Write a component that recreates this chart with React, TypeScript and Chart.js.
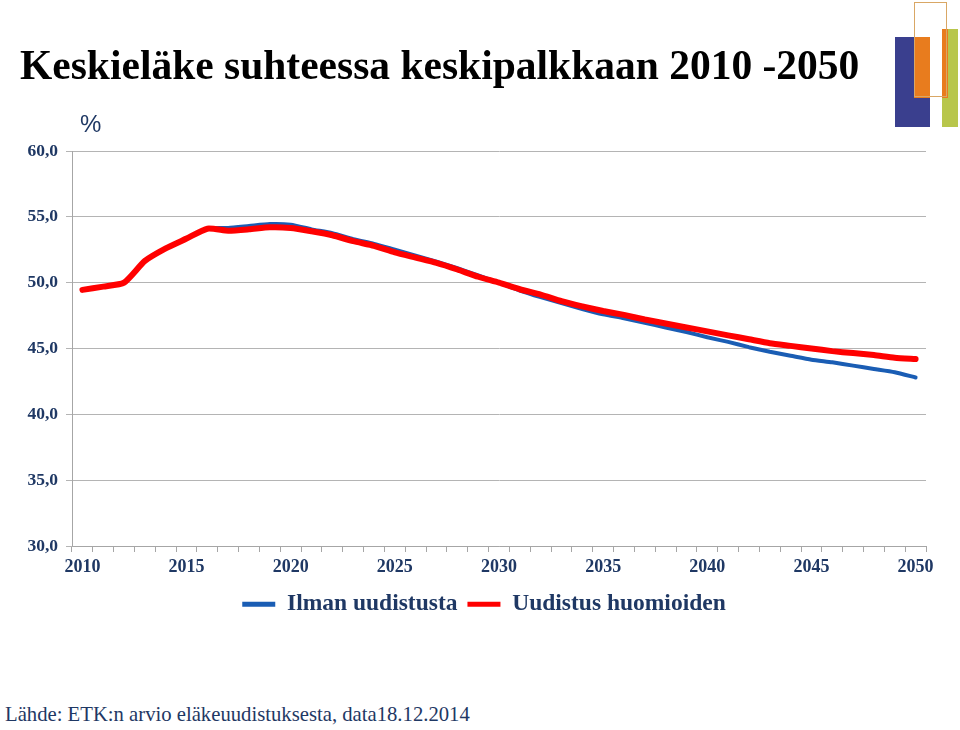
import React, { useEffect, useRef } from "react";
import { Chart, registerables } from "chart.js";

Chart.register(...registerables);

const years = [
  "2010", "2011", "2012", "2013", "2014", "2015", "2016", "2017", "2018", "2019",
  "2020", "2021", "2022", "2023", "2024", "2025", "2026", "2027", "2028", "2029",
  "2030", "2031", "2032", "2033", "2034", "2035", "2036", "2037", "2038", "2039",
  "2040", "2041", "2042", "2043", "2044", "2045", "2046", "2047", "2048", "2049",
  "2050",
];

const ilmanUudistusta = [
  49.45, 49.7, 50.0, 51.65, 52.6, 53.35, 54.1, 54.15, 54.3, 54.45,
  54.4, 54.05, 53.75, 53.3, 52.95, 52.5, 52.05, 51.6, 51.1, 50.55,
  50.0, 49.4, 48.9, 48.45, 48.0, 47.6, 47.3, 46.95, 46.6, 46.25,
  45.85, 45.5, 45.1, 44.75, 44.45, 44.15, 43.95, 43.7, 43.45, 43.2,
  42.8,
];

const uudistusHuomioiden = [
  49.45, 49.7, 50.0, 51.65, 52.6, 53.35, 54.1, 53.95, 54.05, 54.2,
  54.15, 53.9, 53.6, 53.15, 52.8, 52.3, 51.9, 51.5, 51.0, 50.45,
  50.0, 49.5, 49.1, 48.6, 48.2, 47.85, 47.55, 47.2, 46.9, 46.6,
  46.3, 46.0, 45.7, 45.4, 45.2, 45.0, 44.8, 44.65, 44.5, 44.3,
  44.2,
];

const seriesNames = ["Ilman uudistusta", "Uudistus huomioiden"];
const yTicks = [30, 35, 40, 45, 50, 55, 60];

const NAVY = "#1F3864";
const BLUE = "#1A5DB4";
const RED = "#FF0000";
const SERIF = "'Liberation Serif', 'Times New Roman', serif";

// moves the legend so that it is centred on a given x
const legendCentre = {
  id: "legendCentre",
  afterLayout(chart: any) {
    const lg = chart.legend;
    if (!lg) return;
    const target = 484;
    const cur = (lg.left + lg.right) / 2;
    const d = target - cur;
    lg.left += d;
    lg.right += d;
  },
};

export default function App() {
  const canvasRef = useRef<HTMLCanvasElement | null>(null);

  useEffect(() => {
    if (!canvasRef.current) return;
    const chart = new Chart(canvasRef.current, {
      type: "line",
      data: {
        labels: years,
        datasets: [
          {
            label: seriesNames[0],
            data: ilmanUudistusta,
            borderColor: BLUE,
            backgroundColor: BLUE,
            borderWidth: 4,
            pointRadius: 0,
            tension: 0.2,
            borderCapStyle: "round",
            borderJoinStyle: "round",
            order: 2,
          },
          {
            label: seriesNames[1],
            data: uudistusHuomioiden,
            borderColor: RED,
            backgroundColor: RED,
            borderWidth: 6,
            pointRadius: 0,
            tension: 0.2,
            borderCapStyle: "round",
            borderJoinStyle: "round",
            order: 1,
          },
        ],
      },
      plugins: [legendCentre],
      options: {
        animation: false,
        responsive: false,
        maintainAspectRatio: false,
        layout: { padding: { top: 151, left: 16, right: 34, bottom: 14 } },
        plugins: {
          tooltip: { enabled: false },
          title: { display: false },
          legend: {
            position: "bottom",
            labels: {
              boxWidth: 33,
              boxHeight: 5,
              padding: 10,
              color: NAVY,
              font: { family: SERIF, size: 23.5, weight: "bold" },
              sort: (a: any, b: any) => a.datasetIndex - b.datasetIndex,
              generateLabels: (c: any) =>
                Chart.defaults.plugins.legend.labels
                  .generateLabels(c)
                  .map((l: any) => ({ ...l, lineWidth: 0, fontColor: NAVY })),
            },
          },
        },
        scales: {
          x: {
            type: "category",
            offset: true,
            afterFit: (s: any) => {
              s.height = 36.5;
            },
            grid: {
              drawOnChartArea: false,
              drawTicks: true,
              tickLength: 6,
              offset: true,
              color: "#A6A6A6",
            },
            border: { color: "#A6A6A6", width: 1 },
            ticks: {
              autoSkip: false,
              maxRotation: 0,
              padding: 5,
              color: NAVY,
              font: { family: SERIF, size: 18, weight: "bold" },
              callback: (_v: any, i: number) => (Number(years[i]) % 5 === 0 ? years[i] : ""),
            },
          },
          y: {
            min: yTicks[0],
            max: yTicks[yTicks.length - 1],
            afterFit: (s: any) => {
              s.width = 56;
            },
            afterBuildTicks: (s: any) => {
              s.ticks = yTicks.map((v) => ({ value: v }));
            },
            grid: {
              color: "#B4B4B4",
              tickLength: 6,
              drawTicks: true,
            },
            border: { color: "#A6A6A6", width: 1 },
            ticks: {
              padding: 8,
              color: NAVY,
              font: { family: SERIF, size: 17.5, weight: "bold" },
              callback: (v: any) => Number(v).toFixed(1).replace(".", ","),
            },
          },
        },
      },
    });
    return () => chart.destroy();
  }, []);

  return (
    <div style={{ position: "absolute", left: 0, top: 0, width: 960, height: 730, background: "#fff", overflow: "hidden" }}>
      <canvas ref={canvasRef} width={960} height={640} style={{ position: "absolute", left: 0, top: 0, width: 960, height: 640 }} />
      <div
        style={{
          position: "absolute",
          left: 20,
          top: 45,
          fontFamily: SERIF,
          fontWeight: "bold",
          fontSize: 41.5,
          lineHeight: "41.5px",
          color: "#000",
          whiteSpace: "nowrap",
        }}
      >
        Keskieläke suhteessa keskipalkkaan 2010 -2050
      </div>
      <div
        style={{
          position: "absolute",
          left: 80,
          top: 112,
          fontFamily: "'Liberation Sans', Arial, sans-serif",
          fontSize: 24,
          lineHeight: "24px",
          color: NAVY,
        }}
      >
        %
      </div>
      <div
        style={{
          position: "absolute",
          left: 5,
          top: 704,
          fontFamily: SERIF,
          fontSize: 20.7,
          lineHeight: "21px",
          color: NAVY,
          whiteSpace: "nowrap",
        }}
      >
        Lähde: ETK:n arvio eläkeuudistuksesta, data18.12.2014
      </div>
      {/* logo */}
      <div style={{ position: "absolute", left: 895, top: 37, width: 35, height: 90, background: "#3A3F8E" }} />
      <div style={{ position: "absolute", left: 942, top: 29, width: 16, height: 98, background: "#B8C64B" }} />
      <div style={{ position: "absolute", left: 914, top: 37, width: 16, height: 61, background: "#E87C1E" }} />
      <div style={{ position: "absolute", left: 942, top: 29, width: 6, height: 69, background: "#E87C1E" }} />
      <div style={{ position: "absolute", left: 914, top: 2, width: 33, height: 95, border: "1.5px solid #D9A765", boxSizing: "border-box" }} />
    </div>
  );
}
